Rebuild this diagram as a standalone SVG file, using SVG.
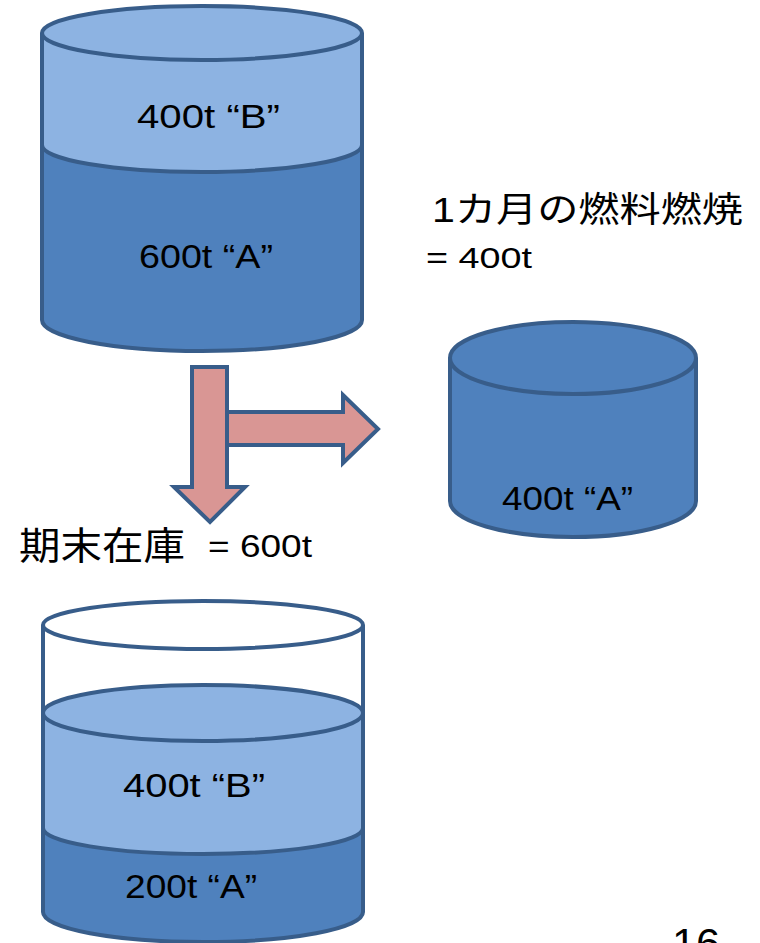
<svg xmlns="http://www.w3.org/2000/svg" width="760" height="943" viewBox="0 0 760 943">
<style>
.ln{stroke:#385D8A;stroke-width:4;fill:none}
.lt{fill:#8DB3E2}
.dk{fill:#4F81BD}
.wh{fill:#FFFFFF}
.t{font-family:"Liberation Sans","Noto Sans CJK JP",sans-serif;fill:#000}
.arr{fill:#D99694;stroke:#385D8A;stroke-width:4;stroke-linejoin:miter}
</style>
<rect width="760" height="943" fill="#FFFFFF"/>
<g id="tank-start">
  <path class="lt" d="M42,33 A160,27 0 0 0 362,33 L362,145 A160,27 0 0 1 42,145 Z"/>
  <path class="dk" d="M42,145 A160,27 0 0 0 362,145 L362,320 A160,31 0 0 1 42,320 Z"/>
  <ellipse class="lt" cx="202" cy="33" rx="160" ry="27"/>
  <ellipse class="ln" cx="202" cy="33" rx="160" ry="27"/>
  <path class="ln" d="M42,145 A160,27 0 0 0 362,145"/>
  <path class="ln" d="M42,33 L42,320 A160,31 0 0 0 362,320 L362,33"/>
  <text class="t" x="137" y="128" font-size="33" textLength="143" lengthAdjust="spacingAndGlyphs">400t “B”</text>
  <text class="t" x="139" y="268" font-size="33" textLength="134" lengthAdjust="spacingAndGlyphs">600t “A”</text>
</g>
<g id="burn-label">
  <text class="t" x="432" y="222" font-size="35" textLength="311" lengthAdjust="spacingAndGlyphs">1カ月の燃料燃焼</text>
  <text class="t" x="426" y="268" font-size="30" textLength="106" lengthAdjust="spacingAndGlyphs">= 400t</text>
</g>
<g id="tank-burned">
  <path class="dk" d="M450,358 L450,501 A123,36 0 0 0 696,501 L696,358 Z"/>
  <ellipse class="dk" cx="573" cy="358" rx="123" ry="36"/>
  <ellipse class="ln" cx="573" cy="358" rx="123" ry="36"/>
  <path class="ln" d="M450,358 L450,501 A123,36 0 0 0 696,501 L696,358"/>
  <text class="t" x="502" y="510" font-size="33" textLength="131" lengthAdjust="spacingAndGlyphs">400t “A”</text>
</g>
<g id="connectors">
  <polygon class="arr" points="220,412 343,412 343,395 378,429 343,463 343,445 220,445"/>
  <polygon class="arr" points="192,367 227,367 227,487 245,487 210,522 174,487 192,487"/>
</g>
<g id="end-label">
  <text class="t" x="19" y="559" font-size="38" textLength="166" lengthAdjust="spacingAndGlyphs">期末在庫</text>
  <text class="t" x="208" y="557" font-size="32" textLength="104" lengthAdjust="spacingAndGlyphs">= 600t</text>
</g>
<g id="tank-end">
  <path class="lt" d="M43,713 A160,28 0 0 0 363,713 L363,828 A160,26 0 0 1 43,828 Z"/>
  <path class="dk" d="M43,828 A160,26 0 0 0 363,828 L363,912 A160,30 0 0 1 43,912 Z"/>
  <ellipse class="lt" cx="203" cy="713" rx="160" ry="28"/>
  <ellipse class="ln" cx="203" cy="713" rx="160" ry="28"/>
  <path class="ln" d="M43,828 A160,26 0 0 0 363,828"/>
  <ellipse class="wh" cx="203" cy="625" rx="160" ry="24"/>
  <ellipse class="ln" cx="203" cy="625" rx="160" ry="24"/>
  <path class="ln" d="M43,625 L43,912 A160,30 0 0 0 363,912 L363,625"/>
  <text class="t" x="123" y="797" font-size="33" textLength="142" lengthAdjust="spacingAndGlyphs">400t “B”</text>
  <text class="t" x="125" y="898" font-size="33" textLength="132" lengthAdjust="spacingAndGlyphs">200t “A”</text>
</g>
<g id="page-number">
  <text class="t" x="672" y="958" font-size="42" textLength="48" lengthAdjust="spacingAndGlyphs">16</text>
</g>
</svg>
